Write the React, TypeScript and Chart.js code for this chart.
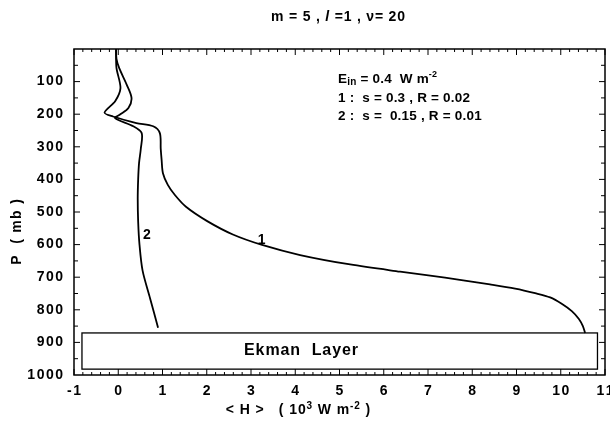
import React, { useEffect, useRef } from "react";
import { Chart, registerables } from "chart.js";

Chart.register(...registerables);

// ---- Data (H in 10^3 W m^-2, P in mb) ----
const curve1H = [-0.05, -0.04, 0.05, -0.07, -0.31, -0.12, 0.41, 0.79, 0.94, 0.96, 0.98, 1.01, 1.12, 1.28, 1.53, 2.01, 2.59, 3.25, 4.11, 5.24, 6.37, 7.05, 7.72, 8.4, 8.97, 9.42, 9.76, 10.03, 10.25, 10.41, 10.5, 10.55];
const curve1P = [0, 58, 120, 160, 195, 207, 227, 237, 258, 306, 340, 381, 417, 448, 484, 528, 569, 601, 632, 661, 683, 695, 708, 722, 735, 749, 762, 782, 804, 828, 850, 871];

const curve2H = [-0.05, -0.04, 0.02, 0.19, 0.3, 0.23, 0.04, -0.07, 0.34, 0.53, 0.51, 0.47, 0.45, 0.44, 0.45, 0.48, 0.55, 0.72, 0.9];
const curve2P = [0, 30, 58, 109, 150, 181, 201, 212, 237, 258, 306, 350, 400, 460, 530, 600, 680, 765, 855];

const xTickValues = [-1, 0, 1, 2, 3, 4, 5, 6, 7, 8, 9, 10, 11];
const yTickValues = [100, 200, 300, 400, 500, 600, 700, 800, 900, 1000];

const curveLabels = ["1", "2"];
const curveLabelH = [3.24, 0.65];
const curveLabelP = [586, 570];

// Ekman layer box extent (data units)
const ekmanH = [-0.82, 10.83];
const ekmanP = [871, 982];

const FONT = '"Liberation Sans", Arial, Helvetica, sans-serif';

type Seg = { t: string; size?: number; dy?: number; italic?: boolean };

function drawSegs(
  ctx: CanvasRenderingContext2D,
  segs: Seg[],
  x: number,
  y: number,
  align: "left" | "center" | "right",
  base = 13,
  spacing = 0
) {
  const fontFor = (s: Seg) => `${s.italic ? "italic " : ""}bold ${s.size ?? base}px ${FONT}`;
  const chars: { c: string; s: Seg; w: number }[] = [];
  for (const s of segs) {
    ctx.font = fontFor(s);
    for (const c of Array.from(s.t)) chars.push({ c, s, w: ctx.measureText(c).width });
  }
  let total = 0;
  chars.forEach((ch, i) => {
    total += ch.w + (i < chars.length - 1 ? spacing : 0);
  });
  let cx = align === "center" ? x - total / 2 : align === "right" ? x - total : x;
  ctx.textAlign = "left";
  ctx.textBaseline = "middle";
  for (const ch of chars) {
    ctx.font = fontFor(ch.s);
    ctx.fillText(ch.c, cx, y + (ch.s.dy ?? 0));
    cx += ch.w + spacing;
  }
}

const decorPlugin = {
  id: "decor",
  afterDatasetsDraw(chart: any) {
    const { ctx, chartArea: a, scales } = chart;
    const xs = scales.x;
    const ys = scales.y;
    ctx.save();
    ctx.strokeStyle = "#000";
    ctx.fillStyle = "#000";

    // frame
    ctx.lineWidth = 1.5;
    ctx.strokeRect(a.left, a.top, a.right - a.left, a.bottom - a.top);

    // ticks
    ctx.lineWidth = 1;
    ctx.beginPath();
    for (let i = 0; i <= 60; i++) {
      const v = -1 + i * 0.2;
      const px = xs.getPixelForValue(v);
      const len = i % 5 === 0 ? 6 : 3;
      ctx.moveTo(px, a.bottom);
      ctx.lineTo(px, a.bottom - len);
      ctx.moveTo(px, a.top);
      ctx.lineTo(px, a.top + len);
    }
    for (let v = 50; v < 1000; v += 50) {
      const py = ys.getPixelForValue(v);
      const len = v % 100 === 0 ? 6 : 4;
      ctx.moveTo(a.left, py);
      ctx.lineTo(a.left + len, py);
      ctx.moveTo(a.right, py);
      ctx.lineTo(a.right - len, py);
    }
    ctx.stroke();

    // tick labels (spaced digits)
    for (const v of xTickValues) {
      drawSegs(ctx, [{ t: String(v) }], xs.getPixelForValue(v), 391, "center", 14, 1.4);
    }
    for (const v of yTickValues) {
      drawSegs(ctx, [{ t: String(v) }], 63, ys.getPixelForValue(v), "right", 14, 1.5);
    }

    // Ekman box
    const bx0 = xs.getPixelForValue(ekmanH[0]);
    const bx1 = xs.getPixelForValue(ekmanH[1]);
    const by0 = ys.getPixelForValue(ekmanP[0]);
    const by1 = ys.getPixelForValue(ekmanP[1]);
    ctx.lineWidth = 1.3;
    ctx.strokeRect(bx0, by0, bx1 - bx0, by1 - by0);
    drawSegs(ctx, [{ t: "Ekman  Layer" }], 301, (by0 + by1) / 2, "center", 16, 0.9);

    // curve labels
    for (let i = 0; i < curveLabels.length; i++) {
      drawSegs(ctx, [{ t: curveLabels[i] }], xs.getPixelForValue(curveLabelH[i]), ys.getPixelForValue(curveLabelP[i]), "center", 14);
    }

    // annotation text
    drawSegs(ctx, [
      { t: "E" },
      { t: "in", size: 10, dy: 3 },
      { t: " = 0.4  W m" },
      { t: "-2", size: 9, dy: -4 },
    ], 338, 79, "left", 13.5, 0.2);
    drawSegs(ctx, [{ t: "1 :  s = 0.3 , R = 0.02" }], 338, 98, "left", 13.5, 0.2);
    drawSegs(ctx, [{ t: "2 :  s =  0.15 , R = 0.01" }], 338, 116, "left", 13.5, 0.2);

    // title
    drawSegs(ctx, [
      { t: "m = 5 , " },
      { t: "l", italic: true },
      { t: " =1 , \u03bd= 20" },
    ], 338, 17, "center", 14, 0.8);

    // x-axis title
    drawSegs(ctx, [
      { t: "< H >   ( 10" },
      { t: "3", size: 10, dy: -4 },
      { t: " W m" },
      { t: "-2", size: 10, dy: -4 },
      { t: " )" },
    ], 298, 410, "center", 14, 0.9);

    // y-axis title
    ctx.save();
    ctx.translate(17, 232);
    ctx.rotate(-Math.PI / 2);
    drawSegs(ctx, [{ t: "P  ( mb )" }], 0, 0, "center", 14, 1.3);
    ctx.restore();

    ctx.restore();
  },
};

export default function App() {
  const ref = useRef<HTMLCanvasElement | null>(null);

  useEffect(() => {
    if (!ref.current) return;
    const mk = (H: number[], P: number[]) => H.map((h, i) => ({ x: h, y: P[i] }));
    const chart = new Chart(ref.current, {
      type: "scatter",
      data: {
        datasets: [
          {
            label: "1",
            data: mk(curve1H, curve1P),
            showLine: true,
            borderColor: "#000",
            borderWidth: 1.8,
            pointRadius: 0,
            tension: 0.3,
          },
          {
            label: "2",
            data: mk(curve2H, curve2P),
            showLine: true,
            borderColor: "#000",
            borderWidth: 1.8,
            pointRadius: 0,
            tension: 0.3,
          },
        ],
      },
      options: {
        responsive: false,
        animation: false,
        layout: { autoPadding: false, padding: { top: 49, right: 5, left: 0, bottom: 0 } },
        plugins: { legend: { display: false }, tooltip: { enabled: false }, title: { display: false } },
        scales: {
          x: {
            type: "linear",
            min: -1,
            max: 11,
            grid: { display: false, drawTicks: false },
            border: { display: false },
            afterBuildTicks: (s: any) => {
              s.ticks = xTickValues.map((v) => ({ value: v }));
            },
            afterFit: (s: any) => {
              s.height = 51;
            },
            ticks: { display: false },
          },
          y: {
            type: "linear",
            min: 0,
            max: 1000,
            reverse: true,
            grid: { display: false, drawTicks: false },
            border: { display: false },
            afterBuildTicks: (s: any) => {
              s.ticks = yTickValues.map((v) => ({ value: v }));
            },
            afterFit: (s: any) => {
              s.width = 74;
            },
            ticks: { display: false },
          },
        },
      },
      plugins: [decorPlugin],
    } as any);
    return () => chart.destroy();
  }, []);

  return (
    <div style={{ position: "absolute", left: 0, top: 0, width: 610, height: 426, background: "#fff" }}>
      <canvas ref={ref} width={610} height={426} style={{ display: "block" }} />
    </div>
  );
}
